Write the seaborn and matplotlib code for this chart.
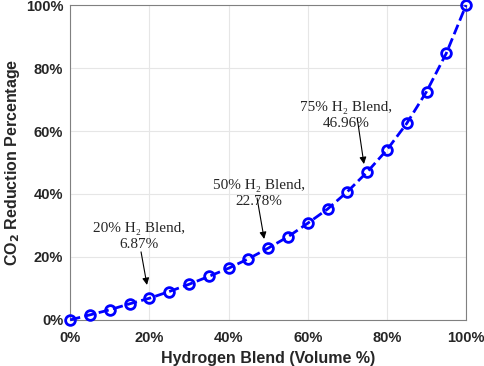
import numpy as np
import pandas as pd
import matplotlib
matplotlib.use("Agg")
import matplotlib.pyplot as plt
import seaborn as sns

blend = [0, 5, 10, 15, 20, 25, 30, 35, 40, 45, 50, 55, 60, 65, 70, 75, 80, 85, 90, 95, 100]
reduction = [0, 1.6, 3.2, 5.1, 6.87, 9.0, 11.3, 13.8, 16.4, 19.4, 22.78, 26.4, 30.7,
             35.2, 40.7, 46.96, 54.0, 62.4, 72.5, 84.7, 100]

labels = ["20% H\u2082 Blend,\n6.87%", "50% H\u2082 Blend,\n22.78%", "75% H\u2082 Blend,\n46.96%"]
label_xy = [(17.4, 31.0), (47.7, 44.8), (69.7, 69.6)]
arrow_tail = [(17.9, 21.6), (47.2, 38.7), (72.5, 64.1)]
arrow_tip = [(19.4, 11.1), (49.0, 25.7), (74.2, 49.5)]

sns.set_style("whitegrid")
plt.rcParams['font.family'] = ['Liberation Sans', 'DejaVu Sans']

df = pd.DataFrame({"blend": blend, "reduction": reduction})

fig, ax = plt.subplots(figsize=(4.84, 3.66), dpi=100)
sns.lineplot(data=df, x="blend", y="reduction", ax=ax, color="blue",
             linestyle="--", linewidth=2, marker="o", markersize=7,
             markerfacecolor="none", markeredgecolor="blue", markeredgewidth=2,
             clip_on=False, zorder=3)

for lab, pos, tail, tip in zip(labels, label_xy, arrow_tail, arrow_tip):
    ax.text(pos[0], pos[1], lab, ha="center", va="top", fontsize=11,
            family=['Liberation Serif', 'DejaVu Serif'], linespacing=1.3)
    ax.annotate("", xy=tip, xytext=tail,
                arrowprops=dict(arrowstyle="-|>", color="black", lw=0.8,
                                mutation_scale=10, shrinkA=0, shrinkB=0))

ax.set_xlim(0, 100)
ax.set_ylim(0, 100)
ticks = [0, 20, 40, 60, 80, 100]
ax.set_xticks(ticks)
ax.set_yticks(ticks)
ax.set_xticklabels([f"{t}%" for t in ticks], fontweight="bold", fontsize=10.5, color="#262626")
ax.set_yticklabels([f"{t}%" for t in ticks], fontweight="bold", fontsize=10.5, color="#262626")
ax.set_xlabel("Hydrogen Blend (Volume %)", fontweight="bold", fontsize=11.5,
              color="#262626", labelpad=4)
ax.set_ylabel("CO$_\\mathbf{2}$ Reduction Percentage", fontweight="bold", fontsize=11.5,
              color="#262626", labelpad=3)
ax.grid(True, color="#e6e6e6", linewidth=0.8)
ax.tick_params(axis="x", direction="in", length=3, color="#262626", pad=8)
ax.tick_params(axis="y", direction="in", length=3, color="#262626", pad=5)
for s in ax.spines.values():
    s.set_color("#808080")
    s.set_linewidth(0.8)

fig.subplots_adjust(left=0.145, right=0.963, bottom=0.126, top=0.986)
fig.savefig("out.png", dpi=100)
